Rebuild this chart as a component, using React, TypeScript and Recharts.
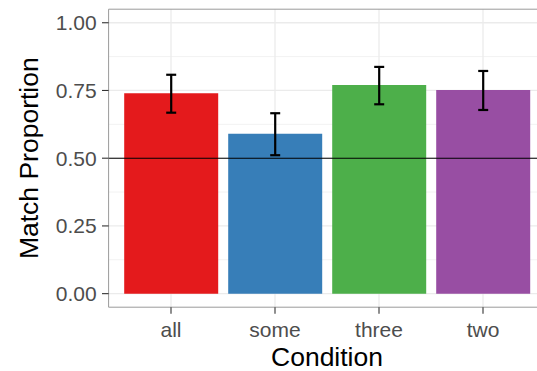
import React from "react";
import {
  ComposedChart,
  Bar,
  Cell,
  ErrorBar,
  XAxis,
  YAxis,
  ReferenceLine,
  CartesianGrid,
} from "recharts";

const conditions = ["all", "some", "three", "two"];
const proportions = [0.74, 0.59, 0.77, 0.752];
const ciLower = [0.668, 0.511, 0.699, 0.678];
const ciUpper = [0.808, 0.666, 0.837, 0.822];
const barColors = ["#E41A1C", "#377EB8", "#4DAF4A", "#984EA3"];
const yTicks = [0, 0.25, 0.5, 0.75, 1];
const yMinorTicks = [0.125, 0.375, 0.625, 0.875];
const chanceLevel = 0.5;

const data = conditions.map((c, i) => ({
  cond: c,
  value: proportions[i],
  err: [proportions[i] - ciLower[i], ciUpper[i] - proportions[i]],
}));

const FONT = "'Liberation Sans', Arial, Helvetica, sans-serif";

export default function App() {
  return (
    <div
      style={{
        position: "absolute",
        left: 0,
        top: 0,
        width: 537,
        height: 371,
        overflow: "hidden",
        background: "#ffffff",
      }}
    >
      <ComposedChart
        width={560}
        height={371}
        data={data}
        margin={{ top: 9.2, right: 14.6, left: 0, bottom: 0 }}
        barCategoryGap="5%"
        style={{ fontFamily: FONT }}
      >
        <CartesianGrid
          vertical={false}
          horizontalValues={yMinorTicks}
          stroke="#F2F2F2"
          strokeWidth={1}
        />
        <CartesianGrid
          horizontalValues={yTicks}
          verticalValues={conditions}
          stroke="#EBEBEB"
          strokeWidth={1.3}
        />
        <ReferenceLine y={1.05} stroke="#9a9a9a" strokeWidth={1} />
        <XAxis
          dataKey="cond"
          type="category"
          padding={{ left: 10.4, right: 10.4 }}
          height={63.8}
          tickSize={6.6}
          tickMargin={8}
          tick={{ fontSize: 21, fill: "#4D4D4D", fontFamily: FONT }}
          tickLine={{ stroke: "#333333", strokeWidth: 1.1 }}
          axisLine={{ stroke: "#9a9a9a", strokeWidth: 1 }}
          label={{
            value: "Condition",
            position: "insideBottom",
            offset: 5,
            style: { fontSize: 26.5, fill: "#000000", fontFamily: FONT },
          }}
        />
        <YAxis
          type="number"
          domain={[-0.05, 1.05]}
          ticks={yTicks}
          allowDataOverflow
          width={108.6}
          tickSize={6.6}
          tickMargin={5.3}
          tickFormatter={(v: number) => v.toFixed(2)}
          tick={{ fontSize: 21, fill: "#4D4D4D", fontFamily: FONT }}
          tickLine={{ stroke: "#333333", strokeWidth: 1.1 }}
          axisLine={{ stroke: "#9a9a9a", strokeWidth: 1 }}
          label={{
            value: "Match Proportion",
            angle: -90,
            position: "insideLeft",
            offset: 29,
            style: { fontSize: 26.5, fill: "#000000", fontFamily: FONT, textAnchor: "middle" },
          }}
        />
        <Bar dataKey="value" isAnimationActive={false}>
          {data.map((d, i) => (
            <Cell key={d.cond} fill={barColors[i]} />
          ))}
          <ErrorBar
            dataKey="err"
            width={5}
            stroke="#000000"
            strokeWidth={2.2}
            direction="y"
            isAnimationActive={false}
          />
        </Bar>
        <ReferenceLine y={chanceLevel} stroke="#000000" strokeWidth={1.1} />
      </ComposedChart>
    </div>
  );
}
